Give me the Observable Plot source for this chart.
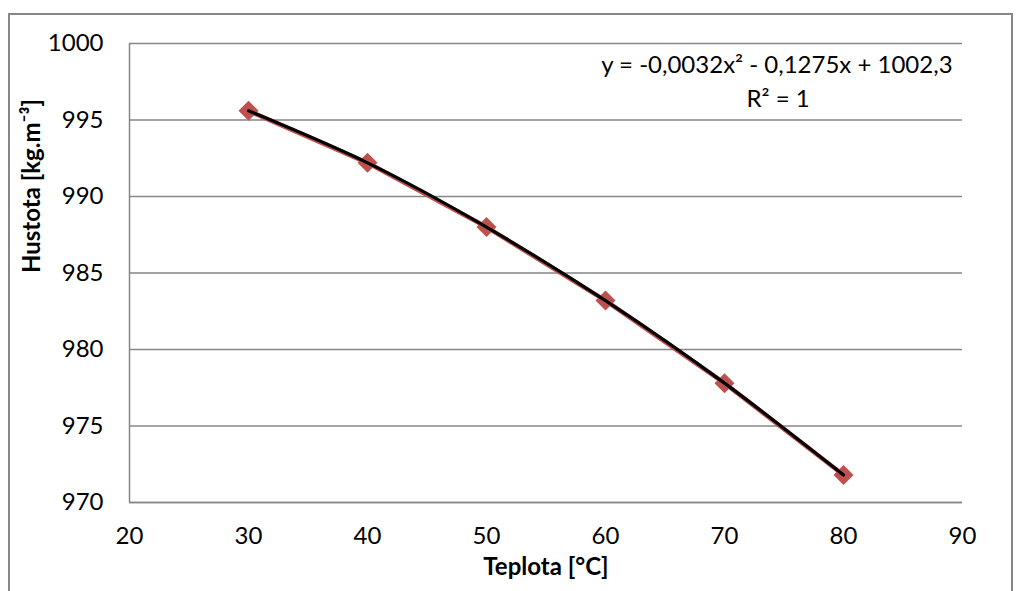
<!DOCTYPE html>
<html>
<head>
<meta charset="utf-8">
<script src="https://cdn.jsdelivr.net/npm/d3@7"></script>
<script src="https://cdn.jsdelivr.net/npm/@observablehq/plot@0.6"></script>
<style>
  html, body { margin: 0; padding: 0; background: #fff; }
  #wrap { position: relative; width: 1016px; height: 591px; overflow: hidden; }
  #border { position: absolute; left: 8px; top: 13px; width: 1005px; height: 620px; border: 2px solid #868686; box-sizing: border-box; }
  #chart { position: absolute; left: 0; top: 0; }
  #chart svg { font-family: Lato, "Open Sans", sans-serif; }
</style>
</head>
<body>
<div id="wrap"><div id="border"></div><div id="chart"></div></div>
<script>
const temperature = [30, 40, 50, 60, 70, 80];
const density = [995.6, 992.2, 988.0, 983.2, 977.8, 971.8];
const xTicks = [20, 30, 40, 50, 60, 70, 80, 90];
const yTicks = [970, 975, 980, 985, 990, 995, 1000];
const xLabel = "Teplota [°C]";
const yLabel = "Hustota [kg.m⁻³]";
const equation = "y = -0,0032x² - 0,1275x + 1002,3";
const rSquared = "R² = 1";

const data = temperature.map((t, i) => ({t, d: density[i]}));
const gray = "#868686";
const red = "#C0504D";
const fs = 24;

const chart = Plot.plot({
  width: 1016,
  height: 591,
  marginLeft: 129,
  marginRight: 54,
  marginTop: 43,
  marginBottom: 89,
  style: {fontFamily: "Lato, 'Open Sans', sans-serif", fontSize: fs + "px", color: "#000", background: "transparent", overflow: "visible"},
  x: {domain: [20, 90], ticks: xTicks},
  y: {domain: [970, 1000], ticks: yTicks},
  marks: [
    Plot.gridY(yTicks, {stroke: gray, strokeOpacity: 1, strokeWidth: 1.5}),
    Plot.ruleX([20], {stroke: gray, strokeWidth: 1.5}),
    Plot.ruleY([970], {stroke: gray, strokeWidth: 1.5}),
    Plot.axisX(xTicks, {tickSize: 0, tickPadding: 24, label: null, fontSize: fs, fill: "#000", tickFormat: d => String(d)}),
    Plot.axisY(yTicks, {tickSize: 0, tickPadding: 26, label: null, fontSize: fs, fill: "#000", tickFormat: d => String(d)}),
    Plot.line(data, {x: "t", y: "d", stroke: red, strokeWidth: 4.5, curve: "linear"}),
    Plot.dot(data, {x: "t", y: "d", symbol: "diamond2", r: 9, fill: red, stroke: null}),
    Plot.line(data, {x: "t", y: "d", stroke: "#000", strokeWidth: 3.2, curve: "natural"}),
    Plot.text([equation], {x: 74.4, y: 998.56, text: d => d, fontSize: fs, fill: "#000", textAnchor: "middle"}),
    Plot.text([rSquared], {x: 74.5, y: 996.34, text: d => d, fontSize: fs, fill: "#000", textAnchor: "middle"}),
    Plot.text([xLabel], {frameAnchor: "bottom", dy: 72, text: d => d, fontSize: fs, fontWeight: "bold", fill: "#000"}),
    Plot.text([yLabel], {frameAnchor: "left", dx: -97, rotate: -90, text: d => d, fontSize: fs, fontWeight: "bold", fill: "#000"})
  ]
});
document.getElementById("chart").append(chart);
</script>
</body>
</html>
